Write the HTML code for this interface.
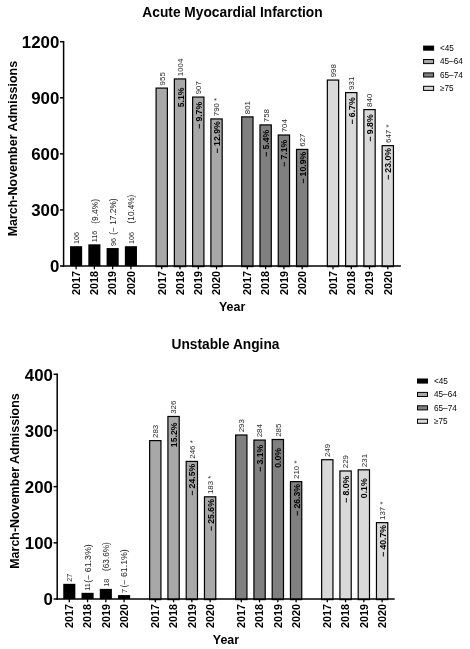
<!DOCTYPE html>
<html><head><meta charset="utf-8"><title>Admissions</title>
<style>
html,body{margin:0;padding:0;background:#fff;}
svg{display:block;}
text{font-family:"Liberation Sans",Arial,sans-serif;fill:#000;}
.t{font-size:13.75px;font-weight:bold;}
.yl{font-size:12.48px;font-weight:bold;}
.yl2{font-size:12.45px;font-weight:bold;}
.yt{font-size:16.85px;font-weight:bold;}
.xt{font-size:10.75px;font-weight:bold;}
.v{font-size:7.9px;fill:#2a2a2a;}
.v0{font-size:7.3px;fill:#2a2a2a;}
.q{font-size:8.4px;fill:#222;}
.p{font-size:8.7px;font-weight:bold;}
.lg{font-size:8.2px;fill:#000;}
</style></head><body>
<svg width="470" height="649" viewBox="0 0 470 649">
<rect width="470" height="649" fill="#fff"/>
<text class="t" x="232.5" y="16.8" text-anchor="middle">Acute Myocardial Infarction</text>
<text class="yl" transform="translate(16.8,148.6) rotate(-90)" text-anchor="middle">March-November Admissions</text>
<text class="yl2" x="232.1" y="310.5" text-anchor="middle">Year</text>
<rect x="70.05" y="246.19" width="12.10" height="19.81" fill="#000"/>
<line x1="76.10" x2="76.10" y1="266.0" y2="269.3" stroke="#000" stroke-width="1.3"/>
<text class="xt" transform="translate(79.90,271.00) rotate(-90)" text-anchor="end">2017</text>
<text class="v0" transform="translate(79.00,244.09) rotate(-90)">106</text>
<rect x="88.32" y="244.32" width="12.10" height="21.68" fill="#000"/>
<line x1="94.37" x2="94.37" y1="266.0" y2="269.3" stroke="#000" stroke-width="1.3"/>
<text class="xt" transform="translate(98.17,271.00) rotate(-90)" text-anchor="end">2018</text>
<text class="q" transform="translate(97.67,223.70) rotate(-90)" textLength="24.70" lengthAdjust="spacingAndGlyphs">(9.4%)</text>
<text class="v0" transform="translate(97.27,242.22) rotate(-90)">116</text>
<rect x="106.59" y="248.06" width="12.10" height="17.94" fill="#000"/>
<line x1="112.64" x2="112.64" y1="266.0" y2="269.3" stroke="#000" stroke-width="1.3"/>
<text class="xt" transform="translate(116.44,271.00) rotate(-90)" text-anchor="end">2019</text>
<text class="q" transform="translate(115.94,234.80) rotate(-90)" textLength="36.40" lengthAdjust="spacingAndGlyphs">(− 17.2%)</text>
<text class="v0" transform="translate(115.54,245.96) rotate(-90)">96</text>
<rect x="124.86" y="246.19" width="12.10" height="19.81" fill="#000"/>
<line x1="130.91" x2="130.91" y1="266.0" y2="269.3" stroke="#000" stroke-width="1.3"/>
<text class="xt" transform="translate(134.71,271.00) rotate(-90)" text-anchor="end">2020</text>
<text class="q" transform="translate(134.21,223.40) rotate(-90)" textLength="28.70" lengthAdjust="spacingAndGlyphs">(10.4%)</text>
<text class="v0" transform="translate(133.81,244.09) rotate(-90)">106</text>
<rect x="156.08" y="88.09" width="11.30" height="178.51" fill="#a8a8a8" stroke="#000" stroke-width="1.2"/>
<line x1="161.73" x2="161.73" y1="266.0" y2="269.3" stroke="#000" stroke-width="1.3"/>
<text class="xt" transform="translate(165.53,271.00) rotate(-90)" text-anchor="end">2017</text>
<text class="v" transform="translate(164.63,85.39) rotate(-90)">955</text>
<rect x="174.35" y="78.94" width="11.30" height="187.66" fill="#a8a8a8" stroke="#000" stroke-width="1.2"/>
<line x1="180.00" x2="180.00" y1="266.0" y2="269.3" stroke="#000" stroke-width="1.3"/>
<text class="xt" transform="translate(183.80,271.00) rotate(-90)" text-anchor="end">2018</text>
<text class="v" transform="translate(182.90,76.24) rotate(-90)">1004</text>
<text class="p" transform="translate(183.50,97.34) rotate(-90)" text-anchor="middle">5.1%</text>
<rect x="192.62" y="97.07" width="11.30" height="169.53" fill="#a8a8a8" stroke="#000" stroke-width="1.2"/>
<line x1="198.27" x2="198.27" y1="266.0" y2="269.3" stroke="#000" stroke-width="1.3"/>
<text class="xt" transform="translate(202.07,271.00) rotate(-90)" text-anchor="end">2019</text>
<text class="v" transform="translate(201.17,94.37) rotate(-90)">907</text>
<text class="p" transform="translate(201.77,115.47) rotate(-90)" text-anchor="middle">− 9.7%</text>
<rect x="210.89" y="118.94" width="11.30" height="147.66" fill="#a8a8a8" stroke="#000" stroke-width="1.2"/>
<line x1="216.54" x2="216.54" y1="266.0" y2="269.3" stroke="#000" stroke-width="1.3"/>
<text class="xt" transform="translate(220.34,271.00) rotate(-90)" text-anchor="end">2020</text>
<text class="v" transform="translate(219.44,116.24) rotate(-90)">790 *</text>
<text class="p" transform="translate(220.04,137.34) rotate(-90)" text-anchor="middle">− 12.9%</text>
<rect x="241.71" y="116.88" width="11.30" height="149.72" fill="#808080" stroke="#000" stroke-width="1.2"/>
<line x1="247.36" x2="247.36" y1="266.0" y2="269.3" stroke="#000" stroke-width="1.3"/>
<text class="xt" transform="translate(251.16,271.00) rotate(-90)" text-anchor="end">2017</text>
<text class="v" transform="translate(250.26,114.18) rotate(-90)">801</text>
<rect x="259.98" y="124.92" width="11.30" height="141.68" fill="#808080" stroke="#000" stroke-width="1.2"/>
<line x1="265.63" x2="265.63" y1="266.0" y2="269.3" stroke="#000" stroke-width="1.3"/>
<text class="xt" transform="translate(269.43,271.00) rotate(-90)" text-anchor="end">2018</text>
<text class="v" transform="translate(268.53,122.22) rotate(-90)">758</text>
<text class="p" transform="translate(269.13,143.32) rotate(-90)" text-anchor="middle">− 5.4%</text>
<rect x="278.25" y="135.01" width="11.30" height="131.59" fill="#808080" stroke="#000" stroke-width="1.2"/>
<line x1="283.90" x2="283.90" y1="266.0" y2="269.3" stroke="#000" stroke-width="1.3"/>
<text class="xt" transform="translate(287.70,271.00) rotate(-90)" text-anchor="end">2019</text>
<text class="v" transform="translate(286.80,132.31) rotate(-90)">704</text>
<text class="p" transform="translate(287.40,153.41) rotate(-90)" text-anchor="middle">− 7.1%</text>
<rect x="296.52" y="149.40" width="11.30" height="117.20" fill="#808080" stroke="#000" stroke-width="1.2"/>
<line x1="302.17" x2="302.17" y1="266.0" y2="269.3" stroke="#000" stroke-width="1.3"/>
<text class="xt" transform="translate(305.97,271.00) rotate(-90)" text-anchor="end">2020</text>
<text class="v" transform="translate(305.07,146.70) rotate(-90)">627</text>
<text class="p" transform="translate(305.67,167.80) rotate(-90)" text-anchor="middle">− 10.9%</text>
<rect x="327.34" y="80.06" width="11.30" height="186.54" fill="#d9d9d9" stroke="#000" stroke-width="1.2"/>
<line x1="332.99" x2="332.99" y1="266.0" y2="269.3" stroke="#000" stroke-width="1.3"/>
<text class="xt" transform="translate(336.79,271.00) rotate(-90)" text-anchor="end">2017</text>
<text class="v" transform="translate(335.89,77.36) rotate(-90)">998</text>
<rect x="345.61" y="92.58" width="11.30" height="174.02" fill="#d9d9d9" stroke="#000" stroke-width="1.2"/>
<line x1="351.26" x2="351.26" y1="266.0" y2="269.3" stroke="#000" stroke-width="1.3"/>
<text class="xt" transform="translate(355.06,271.00) rotate(-90)" text-anchor="end">2018</text>
<text class="v" transform="translate(354.16,89.88) rotate(-90)">931</text>
<text class="p" transform="translate(354.76,110.98) rotate(-90)" text-anchor="middle">− 6.7%</text>
<rect x="363.88" y="109.59" width="11.30" height="157.01" fill="#d9d9d9" stroke="#000" stroke-width="1.2"/>
<line x1="369.53" x2="369.53" y1="266.0" y2="269.3" stroke="#000" stroke-width="1.3"/>
<text class="xt" transform="translate(373.33,271.00) rotate(-90)" text-anchor="end">2019</text>
<text class="v" transform="translate(372.43,106.89) rotate(-90)">840</text>
<text class="p" transform="translate(373.03,127.99) rotate(-90)" text-anchor="middle">− 9.8%</text>
<rect x="382.15" y="145.66" width="11.30" height="120.94" fill="#d9d9d9" stroke="#000" stroke-width="1.2"/>
<line x1="387.80" x2="387.80" y1="266.0" y2="269.3" stroke="#000" stroke-width="1.3"/>
<text class="xt" transform="translate(391.60,271.00) rotate(-90)" text-anchor="end">2020</text>
<text class="v" transform="translate(390.70,142.96) rotate(-90)">647 *</text>
<text class="p" transform="translate(391.30,164.06) rotate(-90)" text-anchor="middle">− 23.0%</text>
<line x1="63.6" x2="63.6" y1="40.95" y2="266.75" stroke="#000" stroke-width="1.5"/>
<line x1="62.85" x2="400.9" y1="266.1" y2="266.1" stroke="#000" stroke-width="1.5"/>
<line x1="60.0" x2="63.6" y1="266.00" y2="266.00" stroke="#000" stroke-width="1.5"/>
<text class="yt" x="59.30" y="272.20" text-anchor="end">0</text>
<line x1="60.0" x2="63.6" y1="209.93" y2="209.93" stroke="#000" stroke-width="1.5"/>
<text class="yt" x="59.30" y="216.12" text-anchor="end">300</text>
<line x1="60.0" x2="63.6" y1="153.85" y2="153.85" stroke="#000" stroke-width="1.5"/>
<text class="yt" x="59.30" y="160.05" text-anchor="end">600</text>
<line x1="60.0" x2="63.6" y1="97.78" y2="97.78" stroke="#000" stroke-width="1.5"/>
<text class="yt" x="59.30" y="103.98" text-anchor="end">900</text>
<line x1="60.0" x2="63.6" y1="41.70" y2="41.70" stroke="#000" stroke-width="1.5"/>
<text class="yt" x="59.30" y="47.90" text-anchor="end">1200</text>
<rect x="423.1" y="45.60" width="11" height="5.1" fill="#000"/>
<text class="lg" x="440" y="51.00">&lt;45</text>
<rect x="423.6" y="59.50" width="10" height="4.1" fill="#a8a8a8" stroke="#000" stroke-width="1"/>
<text class="lg" x="440" y="64.40">45–64</text>
<rect x="423.6" y="72.90" width="10" height="4.1" fill="#808080" stroke="#000" stroke-width="1"/>
<text class="lg" x="440" y="77.80">65–74</text>
<rect x="423.6" y="86.30" width="10" height="4.1" fill="#d9d9d9" stroke="#000" stroke-width="1"/>
<text class="lg" x="440" y="91.20">≥75</text>
<text class="t" x="225.5" y="349.4" text-anchor="middle">Unstable Angina</text>
<text class="yl" transform="translate(18.5,481.0) rotate(-90)" text-anchor="middle">March-November Admissions</text>
<text class="yl2" x="226.0" y="643.5" text-anchor="middle">Year</text>
<rect x="63.25" y="583.83" width="12.10" height="15.17" fill="#000"/>
<line x1="69.30" x2="69.30" y1="599.0" y2="602.3" stroke="#000" stroke-width="1.3"/>
<text class="xt" transform="translate(73.10,604.00) rotate(-90)" text-anchor="end">2017</text>
<text class="v0" transform="translate(72.20,581.73) rotate(-90)">27</text>
<rect x="81.52" y="592.82" width="12.10" height="6.18" fill="#000"/>
<line x1="87.57" x2="87.57" y1="599.0" y2="602.3" stroke="#000" stroke-width="1.3"/>
<text class="xt" transform="translate(91.37,604.00) rotate(-90)" text-anchor="end">2018</text>
<text class="q" transform="translate(90.87,582.80) rotate(-90)" textLength="38.60" lengthAdjust="spacingAndGlyphs">(− 61.3%)</text>
<text class="v0" transform="translate(90.47,590.72) rotate(-90)">11</text>
<rect x="99.79" y="588.89" width="12.10" height="10.11" fill="#000"/>
<line x1="105.84" x2="105.84" y1="599.0" y2="602.3" stroke="#000" stroke-width="1.3"/>
<text class="xt" transform="translate(109.64,604.00) rotate(-90)" text-anchor="end">2019</text>
<text class="q" transform="translate(109.14,570.90) rotate(-90)" textLength="28.60" lengthAdjust="spacingAndGlyphs">(63.6%)</text>
<text class="v0" transform="translate(108.74,586.79) rotate(-90)">18</text>
<rect x="118.06" y="595.07" width="12.10" height="3.93" fill="#000"/>
<line x1="124.11" x2="124.11" y1="599.0" y2="602.3" stroke="#000" stroke-width="1.3"/>
<text class="xt" transform="translate(127.91,604.00) rotate(-90)" text-anchor="end">2020</text>
<text class="q" transform="translate(127.41,587.60) rotate(-90)" textLength="38.40" lengthAdjust="spacingAndGlyphs">(− 61.1%)</text>
<text class="v0" transform="translate(127.01,592.97) rotate(-90)">7</text>
<rect x="149.65" y="440.62" width="11.30" height="158.98" fill="#a8a8a8" stroke="#000" stroke-width="1.2"/>
<line x1="155.30" x2="155.30" y1="599.0" y2="602.3" stroke="#000" stroke-width="1.3"/>
<text class="xt" transform="translate(159.10,604.00) rotate(-90)" text-anchor="end">2017</text>
<text class="v" transform="translate(158.20,437.92) rotate(-90)">283</text>
<rect x="167.92" y="416.47" width="11.30" height="183.13" fill="#a8a8a8" stroke="#000" stroke-width="1.2"/>
<line x1="173.57" x2="173.57" y1="599.0" y2="602.3" stroke="#000" stroke-width="1.3"/>
<text class="xt" transform="translate(177.37,604.00) rotate(-90)" text-anchor="end">2018</text>
<text class="v" transform="translate(176.47,413.77) rotate(-90)">326</text>
<text class="p" transform="translate(177.07,434.87) rotate(-90)" text-anchor="middle">15.2%</text>
<rect x="186.19" y="461.41" width="11.30" height="138.19" fill="#a8a8a8" stroke="#000" stroke-width="1.2"/>
<line x1="191.84" x2="191.84" y1="599.0" y2="602.3" stroke="#000" stroke-width="1.3"/>
<text class="xt" transform="translate(195.64,604.00) rotate(-90)" text-anchor="end">2019</text>
<text class="v" transform="translate(194.74,458.71) rotate(-90)">246 *</text>
<text class="p" transform="translate(195.34,479.81) rotate(-90)" text-anchor="middle">− 24.5%</text>
<rect x="204.46" y="496.80" width="11.30" height="102.80" fill="#a8a8a8" stroke="#000" stroke-width="1.2"/>
<line x1="210.11" x2="210.11" y1="599.0" y2="602.3" stroke="#000" stroke-width="1.3"/>
<text class="xt" transform="translate(213.91,604.00) rotate(-90)" text-anchor="end">2020</text>
<text class="v" transform="translate(213.01,494.10) rotate(-90)">183 *</text>
<text class="p" transform="translate(213.61,515.20) rotate(-90)" text-anchor="middle">− 25.6%</text>
<rect x="235.65" y="435.01" width="11.30" height="164.59" fill="#808080" stroke="#000" stroke-width="1.2"/>
<line x1="241.30" x2="241.30" y1="599.0" y2="602.3" stroke="#000" stroke-width="1.3"/>
<text class="xt" transform="translate(245.10,604.00) rotate(-90)" text-anchor="end">2017</text>
<text class="v" transform="translate(244.20,432.31) rotate(-90)">293</text>
<rect x="253.92" y="440.06" width="11.30" height="159.54" fill="#808080" stroke="#000" stroke-width="1.2"/>
<line x1="259.57" x2="259.57" y1="599.0" y2="602.3" stroke="#000" stroke-width="1.3"/>
<text class="xt" transform="translate(263.37,604.00) rotate(-90)" text-anchor="end">2018</text>
<text class="v" transform="translate(262.47,437.36) rotate(-90)">284</text>
<text class="p" transform="translate(263.07,458.46) rotate(-90)" text-anchor="middle">− 3.1%</text>
<rect x="272.19" y="439.50" width="11.30" height="160.10" fill="#808080" stroke="#000" stroke-width="1.2"/>
<line x1="277.84" x2="277.84" y1="599.0" y2="602.3" stroke="#000" stroke-width="1.3"/>
<text class="xt" transform="translate(281.64,604.00) rotate(-90)" text-anchor="end">2019</text>
<text class="v" transform="translate(280.74,436.80) rotate(-90)">285</text>
<text class="p" transform="translate(281.34,457.90) rotate(-90)" text-anchor="middle">0.0%</text>
<rect x="290.46" y="481.63" width="11.30" height="117.97" fill="#808080" stroke="#000" stroke-width="1.2"/>
<line x1="296.11" x2="296.11" y1="599.0" y2="602.3" stroke="#000" stroke-width="1.3"/>
<text class="xt" transform="translate(299.91,604.00) rotate(-90)" text-anchor="end">2020</text>
<text class="v" transform="translate(299.01,478.93) rotate(-90)">210 *</text>
<text class="p" transform="translate(299.61,500.03) rotate(-90)" text-anchor="middle">− 26.3%</text>
<rect x="321.65" y="459.72" width="11.30" height="139.88" fill="#d9d9d9" stroke="#000" stroke-width="1.2"/>
<line x1="327.30" x2="327.30" y1="599.0" y2="602.3" stroke="#000" stroke-width="1.3"/>
<text class="xt" transform="translate(331.10,604.00) rotate(-90)" text-anchor="end">2017</text>
<text class="v" transform="translate(330.20,457.02) rotate(-90)">249</text>
<rect x="339.92" y="470.96" width="11.30" height="128.64" fill="#d9d9d9" stroke="#000" stroke-width="1.2"/>
<line x1="345.57" x2="345.57" y1="599.0" y2="602.3" stroke="#000" stroke-width="1.3"/>
<text class="xt" transform="translate(349.37,604.00) rotate(-90)" text-anchor="end">2018</text>
<text class="v" transform="translate(348.47,468.26) rotate(-90)">229</text>
<text class="p" transform="translate(349.07,489.36) rotate(-90)" text-anchor="middle">− 8.0%</text>
<rect x="358.19" y="469.84" width="11.30" height="129.76" fill="#d9d9d9" stroke="#000" stroke-width="1.2"/>
<line x1="363.84" x2="363.84" y1="599.0" y2="602.3" stroke="#000" stroke-width="1.3"/>
<text class="xt" transform="translate(367.64,604.00) rotate(-90)" text-anchor="end">2019</text>
<text class="v" transform="translate(366.74,467.14) rotate(-90)">231</text>
<text class="p" transform="translate(367.34,488.24) rotate(-90)" text-anchor="middle">0.1%</text>
<rect x="376.46" y="522.64" width="11.30" height="76.96" fill="#d9d9d9" stroke="#000" stroke-width="1.2"/>
<line x1="382.11" x2="382.11" y1="599.0" y2="602.3" stroke="#000" stroke-width="1.3"/>
<text class="xt" transform="translate(385.91,604.00) rotate(-90)" text-anchor="end">2020</text>
<text class="v" transform="translate(385.01,519.94) rotate(-90)">137 *</text>
<text class="p" transform="translate(385.61,541.04) rotate(-90)" text-anchor="middle">− 40.7%</text>
<line x1="57.2" x2="57.2" y1="373.55" y2="599.75" stroke="#000" stroke-width="1.5"/>
<line x1="56.45" x2="394.7" y1="599.1" y2="599.1" stroke="#000" stroke-width="1.5"/>
<line x1="53.6" x2="57.2" y1="599.00" y2="599.00" stroke="#000" stroke-width="1.5"/>
<text class="yt" x="52.90" y="605.20" text-anchor="end">0</text>
<line x1="53.6" x2="57.2" y1="542.83" y2="542.83" stroke="#000" stroke-width="1.5"/>
<text class="yt" x="52.90" y="549.03" text-anchor="end">100</text>
<line x1="53.6" x2="57.2" y1="486.65" y2="486.65" stroke="#000" stroke-width="1.5"/>
<text class="yt" x="52.90" y="492.85" text-anchor="end">200</text>
<line x1="53.6" x2="57.2" y1="430.48" y2="430.48" stroke="#000" stroke-width="1.5"/>
<text class="yt" x="52.90" y="436.68" text-anchor="end">300</text>
<line x1="53.6" x2="57.2" y1="374.30" y2="374.30" stroke="#000" stroke-width="1.5"/>
<text class="yt" x="52.90" y="380.50" text-anchor="end">400</text>
<rect x="417.0" y="378.50" width="11" height="5.1" fill="#000"/>
<text class="lg" x="434" y="383.90">&lt;45</text>
<rect x="417.5" y="392.40" width="10" height="4.1" fill="#a8a8a8" stroke="#000" stroke-width="1"/>
<text class="lg" x="434" y="397.30">45–64</text>
<rect x="417.5" y="405.80" width="10" height="4.1" fill="#808080" stroke="#000" stroke-width="1"/>
<text class="lg" x="434" y="410.70">65–74</text>
<rect x="417.5" y="419.20" width="10" height="4.1" fill="#d9d9d9" stroke="#000" stroke-width="1"/>
<text class="lg" x="434" y="424.10">≥75</text>
</svg>
</body></html>
